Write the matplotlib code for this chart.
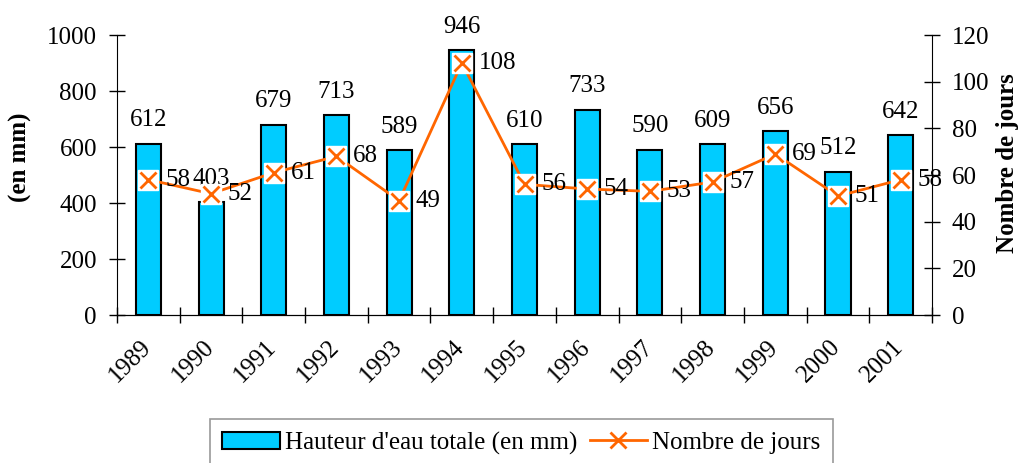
import matplotlib
matplotlib.use("Agg")
from matplotlib import pyplot as plt
from matplotlib.patches import Patch
from matplotlib.lines import Line2D
import numpy as np

years = ["1989", "1990", "1991", "1992", "1993", "1994", "1995",
         "1996", "1997", "1998", "1999", "2000", "2001"]
hauteur = [612, 403, 679, 713, 589, 946, 610, 733, 590, 609, 656, 512, 642]
jours = [58, 52, 61, 68, 49, 108, 56, 54, 53, 57, 69, 51, 58]

bar_color = "#00CCFF"
line_color = "#FF6600"

plt.rcParams['font.family'] = ['Liberation Serif', 'DejaVu Serif']
plt.rcParams['font.size'] = 18

fig = plt.figure(figsize=(10.22, 4.63), dpi=100)
ax = fig.add_axes([0.1145, 0.3196, 0.7975, 0.6048])
x = np.arange(len(years))

ax.bar(x, hauteur, width=0.4, color=bar_color, edgecolor="black", linewidth=1.5, zorder=2)
for xi, h in zip(x, hauteur):
    ax.annotate(str(h), (xi, h), xytext=(0, 9), textcoords="offset points",
                ha="center", va="bottom", fontsize=18)

ax.set_xlim(-0.5, len(years) - 0.5)
ax.set_ylim(0, 1000)
ax.set_yticks(range(0, 1001, 200))
ax.set_xticks(x)
ax.set_xticklabels([])
# year labels, rotated, with their top-right end just left of the bar centre
for xi, yr in zip(x, years):
    ax.annotate(yr, (xi, 0), xycoords=("data", "axes fraction"),
                xytext=(-6, -15), textcoords="offset points", rotation=45,
                ha="right", va="top", rotation_mode="anchor", fontsize=18)
ax.set_xticks(np.arange(-0.5, len(years)), minor=True)
ax.tick_params(axis="x", which="major", length=0)
ax.tick_params(axis="x", which="minor", direction="inout", length=12, width=1)
ax.tick_params(axis="y", direction="inout", length=12, width=1, pad=8.5)
ax.spines["top"].set_visible(False)
ax.spines["right"].set_visible(False)

ax2 = ax.twinx()
ax2.plot(x, jours, color=line_color, linewidth=2, zorder=2)
ax2.plot(x, jours, linestyle="none", marker="s", markersize=14,
         markerfacecolor="white", markeredgecolor="white", zorder=3)
ax2.plot(x, jours, linestyle="none", marker="x", markersize=11,
         markeredgewidth=2, color=line_color, zorder=4)
for xi, j in zip(x, jours):
    ax2.annotate(str(j), (xi, j), xytext=(12, 0), textcoords="offset points",
                 ha="left", va="center", fontsize=18, zorder=5)
ax2.set_ylim(0, 120)
ax2.set_yticks(range(0, 121, 20))
ax2.tick_params(axis="y", direction="inout", length=12, width=1, pad=8)
ax2.spines["top"].set_visible(False)
ax2.spines["left"].set_visible(False)

fig.text(0.02, 0.66, "(en mm)", rotation=90, ha="center", va="center",
         fontsize=18, fontweight="bold")
fig.text(0.986, 0.648, "Nombre de jours", rotation=90, ha="center", va="center",
         fontsize=18, fontweight="bold")

handles = [Patch(facecolor=bar_color, edgecolor="black", linewidth=1.5),
           Line2D([], [], color=line_color, marker="x", markersize=11,
                  markeredgewidth=2, linewidth=2)]
leg = fig.legend(handles, ["Hauteur d'eau totale (en mm)", "Nombre de jours"],
                 loc="upper center", bbox_to_anchor=(0.51, 1 - 419 / 463), ncol=2,
                 fancybox=False, edgecolor="gray", fontsize=18, handlelength=2.3,
                 columnspacing=0.5, handletextpad=0.2, borderpad=0.5,
                 borderaxespad=0)
leg.get_frame().set_linewidth(1.2)

fig.savefig("out.png", dpi=100)
